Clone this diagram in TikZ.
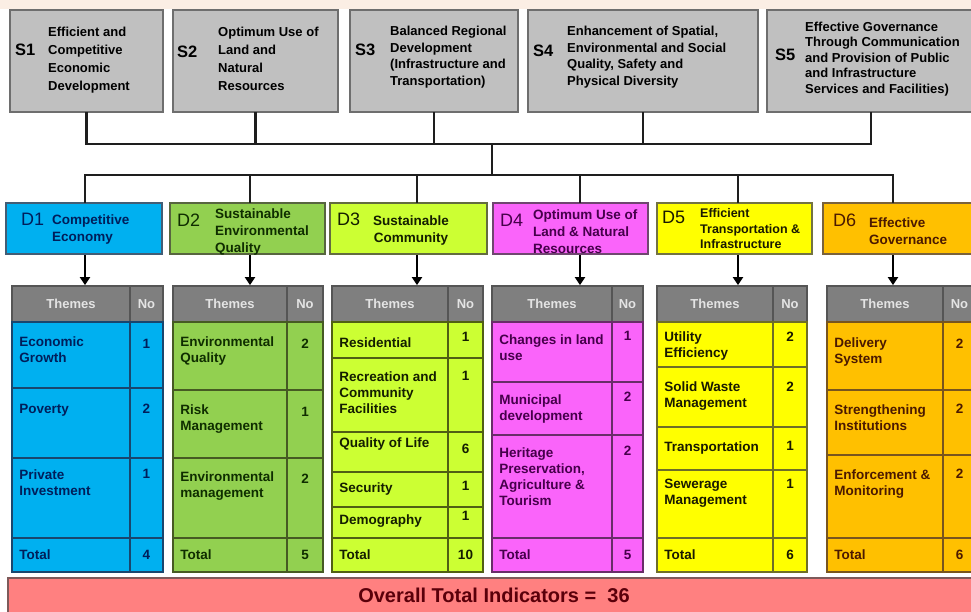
\documentclass[tikz,border=0pt]{standalone}
\usepackage{fontspec}
\setmainfont{Liberation Sans}
\usetikzlibrary{arrows.meta, positioning, calc}
\definecolor{sfill}{RGB}{192,192,192}
\definecolor{sline}{RGB}{110,110,110}
\definecolor{busline}{RGB}{30,30,30}
\definecolor{peach}{RGB}{251,238,228}
\definecolor{hfill}{RGB}{127,127,127}
\definecolor{hline}{RGB}{85,85,85}
\definecolor{htext}{RGB}{228,228,228}
\definecolor{cblue}{RGB}{0,176,240}
\definecolor{lblue}{RGB}{25,70,110}
\definecolor{tblue}{RGB}{0,30,90}
\definecolor{cgreen}{RGB}{146,208,80}
\definecolor{lgreen}{RGB}{70,90,35}
\definecolor{tgreen}{RGB}{15,45,0}
\definecolor{clime}{RGB}{204,255,51}
\definecolor{llime}{RGB}{80,95,20}
\definecolor{tlime}{RGB}{20,30,0}
\definecolor{cpink}{RGB}{250,100,250}
\definecolor{lpink}{RGB}{105,45,105}
\definecolor{tpink}{RGB}{70,0,75}
\definecolor{cyellow}{RGB}{255,255,0}
\definecolor{lyellow}{RGB}{110,110,40}
\definecolor{tyellow}{RGB}{25,25,0}
\definecolor{corange}{RGB}{255,192,0}
\definecolor{lorange}{RGB}{120,85,30}
\definecolor{torange}{RGB}{75,25,0}
\definecolor{bfill}{RGB}{255,128,128}
\definecolor{bline}{RGB}{125,90,90}
\definecolor{btext}{RGB}{90,0,10}
\newcommand{\fsz}[2]{\fontsize{#1}{#2}\selectfont}
% theme table: id, left, divider, right, rows, total
\newcommand{\themetable}[6]{
  \node[head, minimum width={#3-#2}, minimum height=36] (#1h) at ({(#2+#3)/2},304) {Themes};
  \node[head, minimum width={#4-#3}, minimum height=36] (#1hn) at ({(#3+#4)/2},304) {No};
  \foreach \k/\ya/\yb/\dt/\dn/\thm/\num in {#5} {
    \node[cell, minimum width={#3-#2}, minimum height={\yb-\ya}] (#1r\k) at ({(#2+#3)/2},{(\ya+\yb)/2}) {};
    \node[cell, minimum width={#4-#3}, minimum height={\yb-\ya}] (#1n\k) at ({(#3+#4)/2},{(\ya+\yb)/2}) {};
    \node[theme] (#1x\k) at ([shift={(8,\dt)}]#1r\k.north west) {\thm};
    \node[num] (#1y\k) at ([shift={(0,\dn)}]#1n\k.north) {\num};
  }
  \node[cell, minimum width={#3-#2}, minimum height=34] (#1tr) at ({(#2+#3)/2},555) {};
  \node[cell, minimum width={#4-#3}, minimum height=34] (#1tn) at ({(#3+#4)/2},555) {};
  \node[theme, anchor=west] (#1tx) at ([shift={(8,0)}]#1tr.west) {Total};
  \node[num, anchor=center] (#1ty) at (#1tn) {#6};
}

\begin{document}
\begin{tikzpicture}[x=1pt, y=-1pt,
  sbox/.style={draw=sline, line width=2pt, fill=sfill, inner sep=0pt, minimum height=102},
  snum/.style={font=\fsz{16.5}{16.5}\bfseries, anchor=west, inner sep=0pt},
  stext/.style={font=\fsz{13}{#1}\bfseries, align=left, anchor=west, inner sep=0pt},
  stext/.default=17,
  dbox/.style={line width=2.5pt, inner sep=0pt, minimum width=155, minimum height=51},
  dnum/.style={font=\fsz{18}{18}, anchor=west, inner sep=0pt},
  dtext/.style={font=\fsz{13.5}{17}\bfseries, align=left, anchor=west, inner sep=0pt},
  bus/.style={draw=busline, line width=2.6pt, line cap=rect},
  drop/.style={draw=black, line width=2pt, -{Triangle[width=10pt, length=8pt]}},
  cell/.style={draw, line width=1.8pt, inner sep=0pt},
  head/.style={cell, fill=hfill, draw=hline, text=htext, font=\fsz{13}{13}\bfseries},
  theme/.style={font=\fsz{13.5}{16}\bfseries, align=left, anchor=north west, inner sep=0pt},
  num/.style={font=\fsz{13.5}{16}\bfseries, anchor=north, inner sep=0pt},
  banner/.style={draw=bline, line width=2pt, fill=bfill, text=btext, font=\fsz{20}{20}\bfseries}]
  \useasboundingbox (0,0) rectangle (971,611);
  \fill[white] (0,0) rectangle (971,611);
  \fill[peach] (0,0) rectangle (971,9);

  % Strategy boxes
  \node[sbox, minimum width=153] (s1) at (86.5,61) {};
  \node[sbox, minimum width=165] (s2) at (255.5,61) {};
  \node[sbox, minimum width=168] (s3) at (434,61) {};
  \node[sbox, minimum width=230] (s4) at (643,61) {};
  \node[sbox, minimum width=208] (s5) at (871,61) {};
  \node[snum] (s1n) at (15,50) {S1};
  \node[snum] (s2n) at (177,52) {S2};
  \node[snum] (s3n) at (355,50) {S3};
  \node[snum] (s4n) at (533,51) {S4};
  \node[snum] (s5n) at (775,55) {S5};
  \node[stext=18] (s1t) at (48,60) {Efficient and\\Competitive\\Economic\\Development};
  \node[stext=18] (s2t) at (218,59) {Optimum Use of\\Land and\\Natural\\Resources};
  \node[stext=16.7] (s3t) at (390,57) {Balanced Regional\\Development\\(Infrastructure and\\Transportation)};
  \node[stext=16.5] (s4t) at (567,57) {Enhancement of Spatial,\\Environmental and Social\\Quality, Safety and\\Physical Diversity};
  \node[stext=15.5] (s5t) at (805,59) {Effective Governance\\Through Communication\\and Provision of Public\\and Infrastructure\\Services and Facilities)};

  % Dimension boxes
  \node[dbox, fill=cblue, draw=lblue!60!gray, minimum width=156] (d1) at (84,228.5) {};
  \node[dbox, fill=cgreen, draw=lgreen!70!gray] (d2) at (247.5,228.5) {};
  \node[dbox, fill=clime, draw=llime!60!gray, minimum width=157] (d3) at (408.5,228.5) {};
  \node[dbox, fill=cpink, draw=lpink!70!gray] (d4) at (570.5,228.5) {};
  \node[dbox, fill=cyellow, draw=lyellow!70!gray] (d5) at (734.5,228.5) {};
  \node[dbox, fill=corange, draw=lorange!70!gray, minimum width=157] (d6) at (901.5,228.5) {};
  \node[dnum, text=tblue] (d1n) at (21,219) {D1};
  \node[dnum, text=tgreen] (d2n) at (177,220) {D2};
  \node[dnum, text=tlime] (d3n) at (337,219.5) {D3};
  \node[dnum, text=tpink] (d4n) at (500,220.5) {D4};
  \node[dnum, text=tyellow] (d5n) at (662,217.5) {D5};
  \node[dnum, text=torange] (d6n) at (833,220) {D6};
  \node[dtext, text=tblue] (d1t) at (52,230) {Competitive\\Economy};
  \node[dtext, text=tgreen] (d2t) at (215,232) {Sustainable\\Environmental\\Quality};
  \node[dtext, text=tlime, align=center] (d3t) at (373,230.5) {Sustainable\\Community};
  \node[dtext, text=tpink] (d4t) at (533,232) {Optimum Use of\\Land \& Natural\\Resources};
  \node[dtext, text=tyellow, font=\fsz{12.5}{15.5}\bfseries] (d5t) at (700,229) {Efficient\\Transportation \&\\Infrastructure};
  \node[dtext, text=torange] (d6t) at (869,231) {Effective\\Governance};

  % Theme tables
  \begin{scope}[cell/.append style={fill=cblue, draw=lblue}, text=tblue]
    \themetable{t1}{12}{130}{163}{1/322/388/15/18/{Economic\\Growth}/1, 2/388/458/17/17/Poverty/2, 3/458/538/12/12/{Private\\Investment}/1}{4}
  \end{scope}
  \begin{scope}[cell/.append style={fill=cgreen, draw=lgreen}, text=tgreen]
    \themetable{t2}{173}{287}{323}{1/322/390/15/18/{Environmental\\Quality}/2, 2/390/458/15/18/{Risk\\Management}/1, 3/458/538/14/17/{Environmental\\management}/2}{5}
  \end{scope}
  \begin{scope}[cell/.append style={fill=clime, draw=llime}, text=tlime]
    \themetable{t3}{332}{448}{483}{1/322/358/16/11/Residential/1, 2/358/432/14/14/{Recreation and\\Community\\Facilities}/1, 3/432/472/6/13/Quality of Life/6, 4/472/507/11/10/Security/1, 5/507/538/8/5/Demography/1}{10}
  \end{scope}
  \begin{scope}[cell/.append style={fill=cpink, draw=lpink}, text=tpink]
    \themetable{t4}{492}{612}{643}{1/322/382/13/10/{Changes in land\\use}/1, 2/382/435/13/11/{Municipal\\development}/2, 3/435/538/13/12/{Heritage\\Preservation,\\Agriculture \&\\Tourism}/2}{5}
  \end{scope}
  \begin{scope}[cell/.append style={fill=cyellow, draw=lyellow}, text=tyellow]
    \themetable{t5}{657}{773}{807}{1/322/367/10/11/{Utility\\Efficiency}/2, 2/367/427/15/16/{Solid Waste\\Management}/2, 3/427/470/15/15/Transportation/1, 4/470/538/10/10/{Sewerage\\Management}/1}{6}
  \end{scope}
  \begin{scope}[cell/.append style={fill=corange, draw=lorange}, text=torange]
    \themetable{t6}{827}{943}{976}{1/322/390/16/18/{Delivery\\System}/2, 2/390/455/15/15/{Strengthening\\Institutions}/2, 3/455/538/15/15/{Enforcement \&\\Monitoring}/2}{6}
  \end{scope}

  % Links from strategies to dimensions
  \coordinate (hub1) at (492,144);
  \coordinate (hub2) at (492,175);
  \draw[bus] (s1.south) |- (hub1) -| (s5.south);
  \foreach \s in {s2,s3,s4} \draw[bus] (\s.south) -- (\s.south |- hub1);
  \draw[bus] (hub1) -- (hub2);
  \foreach \i/\x in {1/85,2/250,3/417,4/580,5/738,6/893} {
    \coordinate (j\i) at (\x,175);
    \draw[bus] (j\i) -- (j\i |- d\i.north);
    \draw[drop] (j\i |- d\i.south) -- (j\i |- t\i h.north);
  }
  \draw[bus] (j1) -- (j6);

  % Overall total
  \node[banner, minimum width=972, minimum height=35] (tot) at (494,595) {Overall Total Indicators =\ \ 36};
\end{tikzpicture}
\end{document}
